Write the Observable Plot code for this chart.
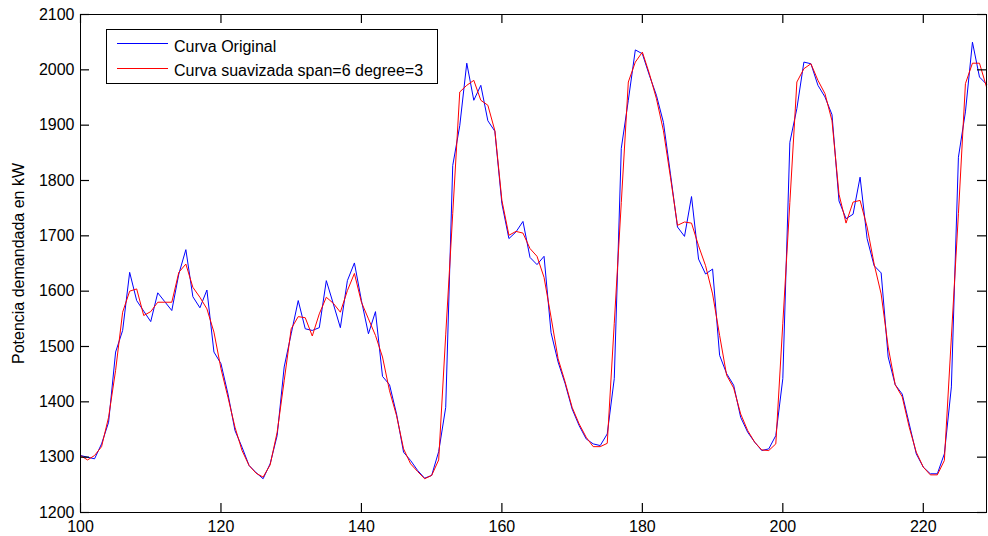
<!DOCTYPE html>
<html><head><meta charset="utf-8">
<script src="https://cdn.jsdelivr.net/npm/d3@7"></script>
<script src="https://cdn.jsdelivr.net/npm/@observablehq/plot@0.6"></script>
<style>
body{margin:0;background:#fff;}
#wrap{position:relative;width:988px;height:536px;font-family:"Liberation Sans",Arial,sans-serif;}
#legend{position:absolute;left:106px;top:29px;width:330px;height:53px;border:1px solid #000;background:#fff;box-sizing:content-box;}
#legend .sw{position:absolute;left:10px;width:51px;height:0;border-top:1px solid;}
#legend .lb{position:absolute;left:67px;font-size:16px;line-height:18px;white-space:nowrap;color:#000;}
</style></head>
<body><div id="wrap"></div>
<script>
const xIndex = d3.range(100, 230);
const curvaOriginal = [
 1303,1300,1297,1324,1363,1490,1529,1634,1583,1564,
 1545,1597,1581,1565,1631,1675,1590,1570,1602,1490,
 1469,1414,1348,1318,1285,1272,1261,1288,1339,1463,
 1523,1583,1532,1529,1534,1619,1577,1534,1619,1651,
 1583,1523,1563,1446,1431,1378,1309,1294,1276,1262,
 1267,1310,1390,1827,1899,2012,1945,1972,1908,1889,
 1758,1695,1707,1726,1661,1648,1663,1525,1472,1433,
 1387,1357,1333,1324,1321,1342,1442,1858,1945,2036,
 2029,1990,1954,1905,1812,1716,1699,1771,1658,1631,
 1640,1484,1451,1430,1372,1345,1327,1312,1315,1339,
 1442,1869,1930,2014,2011,1972,1951,1919,1763,1731,
 1739,1806,1695,1646,1633,1481,1431,1414,1360,1306,
 1282,1270,1270,1306,1427,1842,1924,2050,1987,1974
];
const curvaSuavizada = [
 1303,1295,1303,1319,1372,1457,1562,1600,1604,1556,
 1563,1580,1580,1580,1634,1649,1607,1589,1568,1526,
 1460,1408,1354,1312,1285,1271,1264,1286,1345,1438,
 1532,1554,1552,1519,1559,1589,1578,1562,1601,1632,
 1580,1550,1520,1481,1420,1375,1315,1288,1274,1261,
 1267,1295,1521,1740,1960,1972,1981,1945,1936,1890,
 1764,1701,1708,1705,1677,1663,1625,1553,1478,1436,
 1390,1360,1336,1319,1319,1325,1542,1760,1978,2014,
 2032,1993,1948,1890,1806,1719,1725,1723,1682,1646,
 1595,1520,1448,1425,1378,1348,1327,1313,1312,1324,
 1542,1760,1978,2002,2011,1981,1957,1908,1775,1723,
 1761,1764,1716,1649,1595,1499,1431,1409,1354,1309,
 1282,1268,1268,1294,1517,1740,1975,2012,2012,1969
];
const xTicks = [100,120,140,160,180,200,220];
const yTicks = [1200,1300,1400,1500,1600,1700,1800,1900,2000,2100];
const seriesNames = ["Curva Original","Curva suavizada span=6 degree=3"];
const seriesColors = ["#0000ff","#ff0000"];
const yLabel = "Potencia demandada en kW";

const rows = xIndex.map((x,i)=>({x, original: curvaOriginal[i], suavizada: curvaSuavizada[i]}));

const W = 988, H = 536, mL = 80, mR = 2, mT = 14, mB = 24, tickLen = 9;
const innerW = W - mL - mR, innerH = H - mT - mB;

const chart = Plot.plot({
  width: W, height: H,
  marginLeft: mL, marginRight: mR, marginTop: mT, marginBottom: mB,
  style: {fontFamily: "'Liberation Sans', Arial, sans-serif", fontSize: "16px", color: "#000", background: "#fff", overflow: "visible"},
  x: {domain: [100, 229]},
  y: {domain: [1200, 2100]},
  marks: [
    Plot.line(rows, {x: "x", y: "original", stroke: seriesColors[0], strokeWidth: 1}),
    Plot.line(rows, {x: "x", y: "suavizada", stroke: seriesColors[1], strokeWidth: 1}),
    Plot.tickX(xTicks, {x: d => d, stroke: "#000", strokeWidth: 1.2, insetTop: innerH - tickLen}),
    Plot.tickX(xTicks, {x: d => d, stroke: "#000", strokeWidth: 1.2, insetBottom: innerH - tickLen}),
    Plot.tickY(yTicks, {y: d => d, stroke: "#000", strokeWidth: 1.2, insetRight: innerW - tickLen}),
    Plot.tickY(yTicks, {y: d => d, stroke: "#000", strokeWidth: 1.2, insetLeft: innerW - tickLen}),
    Plot.frame({stroke: "#000", strokeWidth: 1}),
    Plot.axisX(xTicks, {anchor: "bottom", tickSize: 0, tickPadding: 8, label: null, fontSize: 16, tickFormat: d => String(d)}),
    Plot.axisY(yTicks, {anchor: "left", tickSize: 0, tickPadding: 6, label: yLabel, labelAnchor: "center", labelOffset: 68, labelArrow: "none", fontSize: 16, tickFormat: d => String(d)})
  ]
});
const wrap = document.getElementById("wrap");
wrap.appendChild(chart);

const legend = document.createElement("div");
legend.id = "legend";
const swY = [13, 38];
const lbY = [8, 32];
seriesNames.forEach((name, i) => {
  const sw = document.createElement("div");
  sw.className = "sw";
  sw.style.top = swY[i] + "px";
  sw.style.borderTopColor = seriesColors[i];
  legend.appendChild(sw);
  const lb = document.createElement("div");
  lb.className = "lb";
  lb.style.top = lbY[i] + "px";
  lb.textContent = name;
  legend.appendChild(lb);
});
wrap.appendChild(legend);
</script>
</body></html>
